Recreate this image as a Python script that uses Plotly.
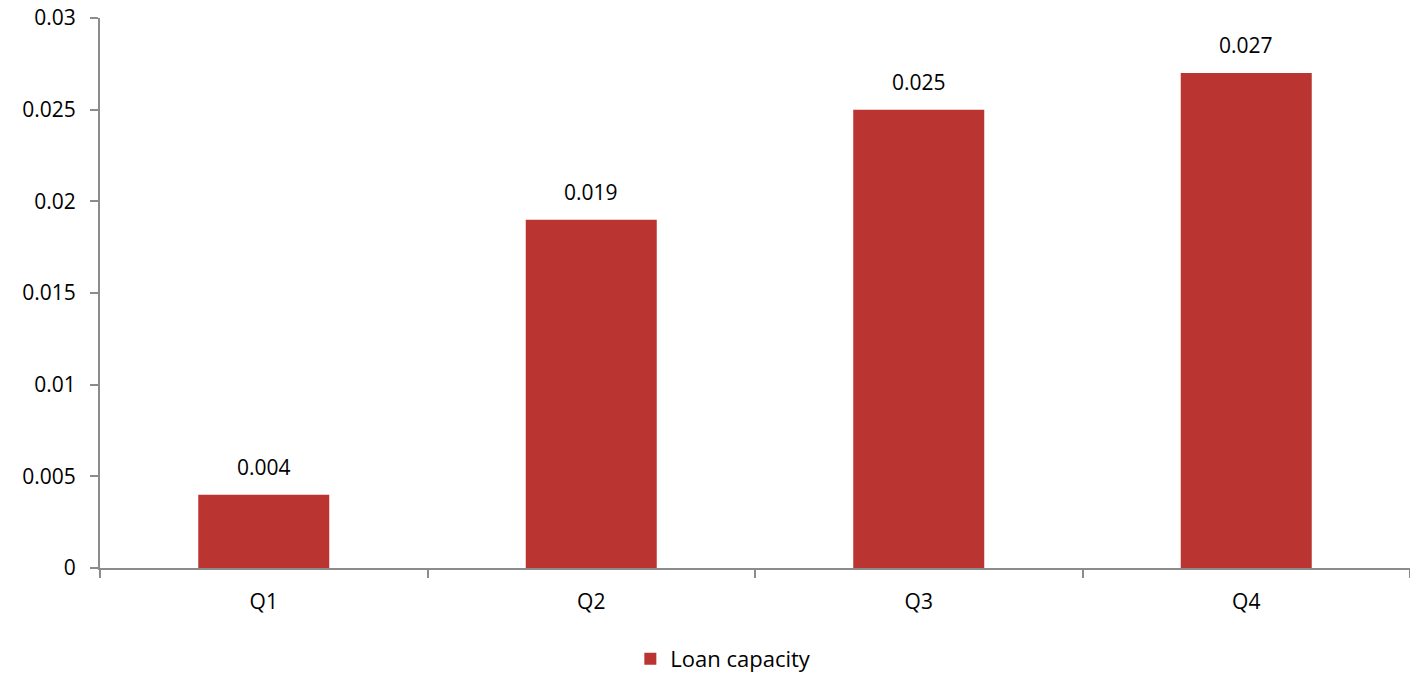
import plotly.graph_objects as go

categories = ["Q1", "Q2", "Q3", "Q4"]
loan_capacity = [0.004, 0.019, 0.025, 0.027]
value_labels = ["0.004", "0.019", "0.025", "0.027"]
y_ticks = [0, 0.005, 0.01, 0.015, 0.02, 0.025, 0.03]
y_tick_labels = ["0", "0.005", "0.01", "0.015", "0.02", "0.025", "0.03"]

font_family = "Open Sans, Liberation Sans, sans-serif"
fs = 21

fig = go.Figure()
fig.add_trace(go.Bar(
    x=categories,
    y=loan_capacity,
    name="Loan capacity",
    width=0.4,
    marker=dict(color="#BA3532", line=dict(width=0)),
))

for c, v, t in zip(categories, loan_capacity, value_labels):
    fig.add_annotation(
        x=c, y=v, xref="x", yref="y", text=t, showarrow=False,
        yanchor="middle", yshift=28,
        font=dict(size=fs, color="#000000", family=font_family),
    )

fig.update_layout(
    width=1410,
    height=673,
    margin=dict(l=100, r=0, t=18, b=105, autoexpand=False),
    paper_bgcolor="white",
    plot_bgcolor="white",
    font=dict(family=font_family, size=fs, color="#000000"),
    showlegend=True,
    legend=dict(
        orientation="h",
        x=0.513, xanchor="center", xref="container",
        y=1 - 659 / 673, yanchor="middle", yref="container",
        font=dict(size=22),
        itemwidth=30,
    ),
)

fig.update_xaxes(
    type="category",
    showline=True, linecolor="#8C8C8C", linewidth=2,
    ticks="outside", tickson="boundaries", ticklen=8, tickcolor="#8C8C8C", tickwidth=2,
    showgrid=False, zeroline=False,
    tickfont=dict(size=fs),
    ticklabelstandoff=14,
    automargin=False,
)
fig.update_yaxes(
    range=[0, 0.03],
    tickvals=y_ticks, ticktext=y_tick_labels,
    showline=True, linecolor="#8C8C8C", linewidth=2,
    ticks="outside", ticklen=8, tickcolor="#8C8C8C", tickwidth=2,
    showgrid=False, zeroline=False,
    tickfont=dict(size=fs),
    ticklabelstandoff=10,
    automargin=False,
)

fig.write_html("out.html")
